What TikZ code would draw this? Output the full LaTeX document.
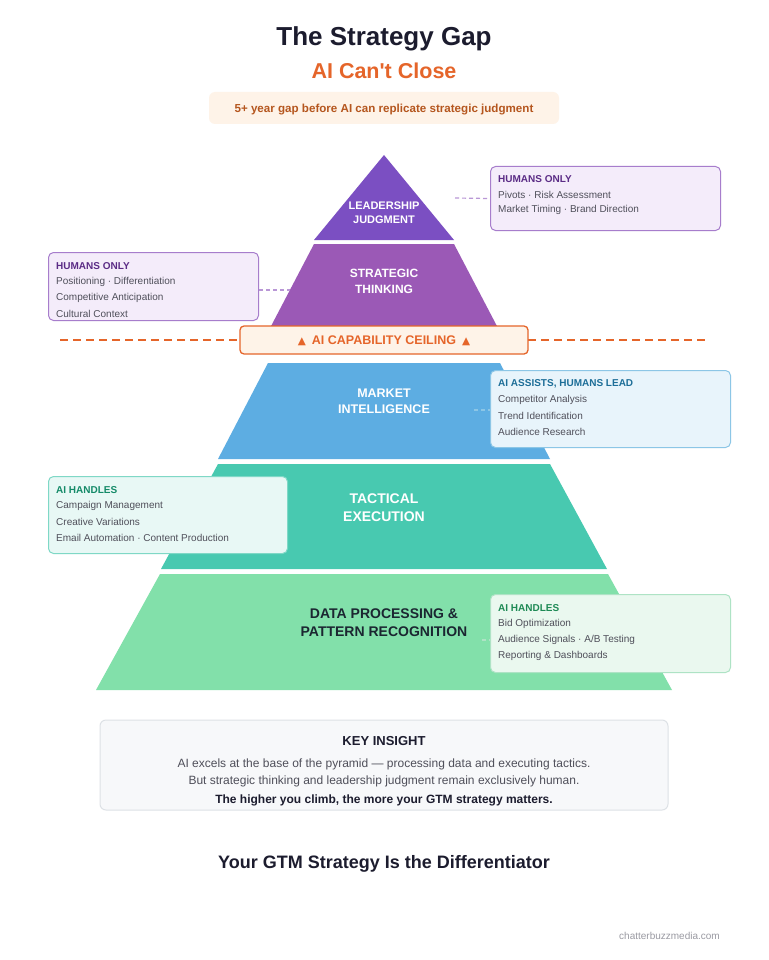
\documentclass[tikz,border=0pt]{standalone}
\usepackage{fontspec}
\setmainfont{Liberation Sans}
\newfontfamily\symfont{DejaVu Sans}
\definecolor{titlec}{HTML}{1C1C2E}
\definecolor{orangec}{HTML}{E5652A}
\definecolor{peach}{HTML}{FEF3E8}
\definecolor{subc}{HTML}{B5561E}
\definecolor{lay1}{HTML}{7B4FC2}
\definecolor{lay2}{HTML}{9B59B6}
\definecolor{lay3}{HTML}{5DADE2}
\definecolor{lay4}{HTML}{48C9B0}
\definecolor{lay5}{HTML}{82E0AA}
\definecolor{purfill}{HTML}{F4ECFA}
\definecolor{purdraw}{HTML}{A77DCC}
\definecolor{purhead}{HTML}{5B2C86}
\definecolor{bluefill}{HTML}{E8F4FB}
\definecolor{bluedraw}{HTML}{8CC6E6}
\definecolor{bluehead}{HTML}{1D6E98}
\definecolor{tealfill}{HTML}{E8F8F5}
\definecolor{tealdraw}{HTML}{7FD8C6}
\definecolor{tealhead}{HTML}{148A68}
\definecolor{grnfill}{HTML}{EAF8EF}
\definecolor{grndraw}{HTML}{AEE3C5}
\definecolor{grnhead}{HTML}{1E8A55}
\definecolor{bodyc}{HTML}{4F4F5A}
\definecolor{keyfill}{HTML}{F7F8FA}
\definecolor{keydraw}{HTML}{DDE1E6}
\definecolor{footc}{HTML}{9A9AA2}
\definecolor{lay5txt}{HTML}{1B2631}
\newcommand{\tri}{{\symfont\fontsize{10.5}{11}\selectfont\raisebox{0.3pt}{▲}}}
\tikzset{
  layertxt/.style 2 args={text=white,font=\bfseries\fontsize{#1}{#2}\selectfont,align=center,inner sep=0pt},
  callbox/.style={rounded corners=5pt,line width=1pt,anchor=north west,inner sep=0pt},
  callhead/.style={anchor=west,font=\bfseries\fontsize{10}{12}\selectfont,inner sep=0pt},
  callbody/.style={anchor=west,font=\fontsize{10}{12}\selectfont,text=bodyc,inner sep=0pt},
  conn/.style={dash pattern=on 4pt off 3pt,line width=1.2pt},
}
\begin{document}
\begin{tikzpicture}[x=1pt,y=-1pt]
\useasboundingbox (0,0) rectangle (768,960);
\fill[white] (0,0) rectangle (768,960);

% title
\node[font=\bfseries\fontsize{26}{30}\selectfont,text=titlec,inner sep=0pt] (title) at (384,39) {The Strategy Gap};
\node[font=\bfseries\fontsize{21.5}{26}\selectfont,text=orangec,inner sep=0pt] (subtitle) at (384,71) {AI Can\textquotesingle t Close};
\node[fill=peach,rounded corners=6pt,minimum width=350pt,minimum height=32pt,inner sep=0pt] (gapbox) at (384,108) {};
\node[font=\bfseries\fontsize{11.6}{14}\selectfont,text=subc,inner sep=0pt,anchor=base] (gaptxt) at (384,112.5) {5+ year gap before AI can replicate strategic judgment};

% pyramid
\fill[lay1] (384,155) -- (454,240) -- (314,240) -- cycle;
\fill[lay2] (314,244) -- (454,244) -- (499,330) -- (269,330) -- cycle;
\fill[lay3] (268,363) -- (500,363) -- (550,459) -- (218,459) -- cycle;
\fill[lay4] (218,464) -- (550,464) -- (607,569) -- (161,569) -- cycle;
\fill[lay5] (160,574) -- (608,574) -- (672,690) -- (96,690) -- cycle;

\node[layertxt={11}{14}] (l1) at (384,213) {LEADERSHIP\\JUDGMENT};
\node[layertxt={12}{16}] (l2) at (384,281) {STRATEGIC\\THINKING};
\node[layertxt={12.5}{16}] (l3) at (384,401) {MARKET\\INTELLIGENCE};
\node[layertxt={14}{18}] (l4) at (384,508) {TACTICAL\\EXECUTION};
\node[layertxt={14}{18},text=lay5txt] (l5) at (384,622.5) {DATA PROCESSING \&\\PATTERN RECOGNITION};

% connectors anchor points
\coordinate (c1) at (455,198);
\coordinate (c2) at (290,290);
\coordinate (c3) at (474,410);
\coordinate (c5) at (482,640);

% callout A
\node[callbox,fill=purfill,draw=purdraw,minimum width=230pt,minimum height=64pt] (boxA) at (490,166) {};
\draw[conn,draw=purdraw!80] (c1) -- (boxA.west);
\node[callhead,text=purhead] (a1) at (498,179) {HUMANS ONLY};
\node[callbody] (a2) at (498,194.5) {Pivots · Risk Assessment};
\node[callbody] (a3) at (498,210) {Market Timing · Brand Direction};

% callout B
\node[callbox,fill=purfill,draw=purdraw,minimum width=210pt,minimum height=68pt] (boxB) at (48,252) {};
\draw[conn,draw=purdraw!80] (boxB.east |- c2) -- (c2);
\node[callhead,text=purhead] (b1) at (56,266) {HUMANS ONLY};
\node[callbody] (b2) at (56,282) {Positioning · Differentiation};
\node[callbody] (b3) at (56,298) {Competitive Anticipation};
\node[callbody] (b4) at (56,314) {Cultural Context};

% ceiling
\coordinate (ceilL) at (60,340);
\coordinate (ceilR) at (705,340);
\draw[orangec,line width=2pt,dash pattern=on 8pt off 5pt] (ceilL) -- (ceilR);
\node[fill=peach,draw=orangec,line width=1.3pt,rounded corners=4pt,minimum width=288pt,minimum height=28pt,inner sep=0pt] (ceil) at (384,340) {};
\node[font=\bfseries\fontsize{12.5}{15}\selectfont,text=orangec,inner sep=0pt,anchor=base] (ceiltxt) at (384,344.5) {\tri\hspace{6pt}AI CAPABILITY CEILING\hspace{6pt}\tri};

% callout C
\node[callbox,fill=bluefill,draw=bluedraw,minimum width=240pt,minimum height=77pt] (boxC) at (490,370) {};
\draw[conn,draw=bluedraw] (c3) -- (boxC.west |- c3);
\node[callhead,text=bluehead] (cc1) at (498,384) {AI ASSISTS, HUMANS LEAD};
\node[callbody] (cc2) at (498,400) {Competitor Analysis};
\node[callbody] (cc3) at (498,416) {Trend Identification};
\node[callbody] (cc4) at (498,432) {Audience Research};

% callout D
\node[callbox,fill=tealfill,draw=tealdraw,minimum width=239pt,minimum height=77pt] (boxD) at (48,476) {};
\node[callhead,text=tealhead] (d1) at (56,490) {AI HANDLES};
\node[callbody] (d2) at (56,506) {Campaign Management};
\node[callbody] (d3) at (56,522) {Creative Variations};
\node[callbody] (d4) at (56,538) {Email Automation · Content Production};

% callout E
\node[callbox,fill=grnfill,draw=grndraw,minimum width=240pt,minimum height=78pt] (boxE) at (490,594) {};
\draw[conn,draw=grndraw] (c5) -- (boxE.west |- c5);
\node[callhead,text=grnhead] (e1) at (498,608) {AI HANDLES};
\node[callbody] (e2) at (498,624) {Bid Optimization};
\node[callbody] (e3) at (498,640) {Audience Signals · A/B Testing};
\node[callbody] (e4) at (498,656) {Reporting \& Dashboards};

% key insight
\node[fill=keyfill,draw=keydraw,line width=1pt,rounded corners=6pt,minimum width=568pt,minimum height=90pt,inner sep=0pt] (keybox) at (384,765) {};
\node[font=\bfseries\fontsize{13}{15}\selectfont,text=titlec,inner sep=0pt] (k1) at (384,741) {KEY INSIGHT};
\node[font=\fontsize{12}{14}\selectfont,text=bodyc,inner sep=0pt] (k2) at (384,764.5) {AI excels at the base of the pyramid — processing data and executing tactics.};
\node[font=\fontsize{12}{14}\selectfont,text=bodyc,inner sep=0pt] (k3) at (384,781.5) {But strategic thinking and leadership judgment remain exclusively human.};
\node[font=\bfseries\fontsize{12}{14}\selectfont,text=titlec,inner sep=0pt] (k4) at (384,800) {The higher you climb, the more your GTM strategy matters.};

% footer
\node[font=\bfseries\fontsize{18}{22}\selectfont,text=titlec,inner sep=0pt] (foot) at (384,864) {Your GTM Strategy Is the Differentiator};
\node[font=\fontsize{10}{12}\selectfont,text=footc,anchor=east,inner sep=0pt] (url) at (720,936) {chatterbuzzmedia.com};
\end{tikzpicture}
\end{document}
